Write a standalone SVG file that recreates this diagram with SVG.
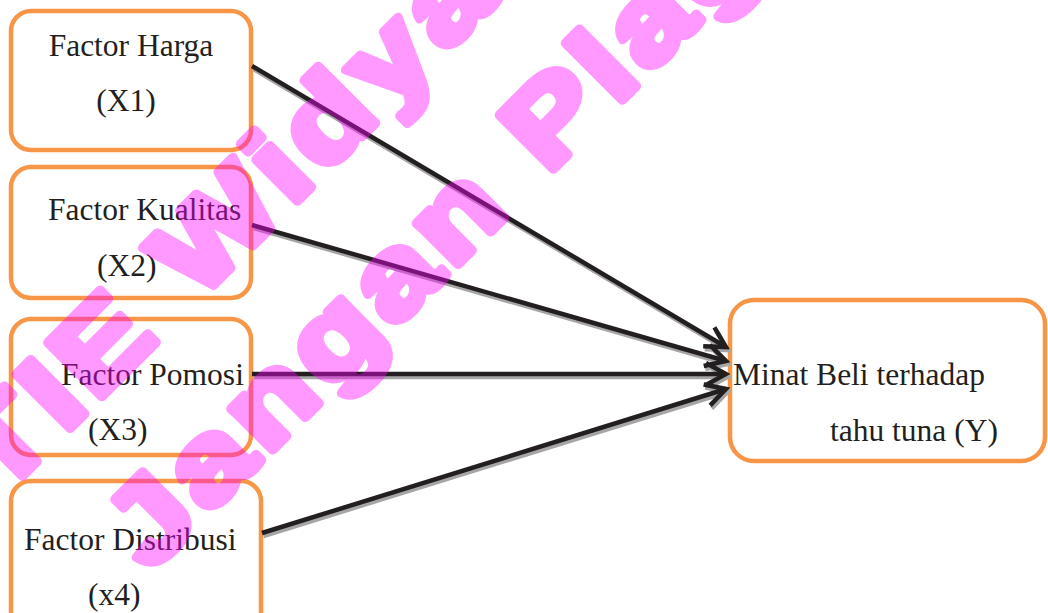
<svg xmlns="http://www.w3.org/2000/svg" width="1048" height="613" viewBox="0 0 1048 613">
  <defs>
    <style>
      .box { fill: #ffffff; stroke: #f79646; stroke-width: 4.5; }
      .lbl { font-family: "Liberation Serif", "Times New Roman", serif; font-size: 31.5px; fill: #231f20; }
      .wire { fill: none; stroke: #231f20; stroke-width: 4.5; stroke-linecap: butt; }
      .wire-shadow { fill: none; stroke: #a6a6a6; stroke-width: 4.5; }
      .mark { font-family: "Liberation Sans", Arial, sans-serif; font-weight: bold; font-size: 112px; letter-spacing: 6.5px; fill: #ff00ff; stroke: #ff00ff; stroke-width: 9; stroke-linejoin: round; }
    </style>
    <marker id="head" viewBox="-24 -14 28 28" refX="0" refY="0" markerWidth="28" markerHeight="28" markerUnits="userSpaceOnUse" orient="auto">
      <path d="M -20 -11 L 0 0 L -20 11" fill="none" stroke="#231f20" stroke-width="4.5" stroke-linejoin="miter"/>
    </marker>
    <marker id="head-shadow" viewBox="-24 -14 28 28" refX="0" refY="0" markerWidth="28" markerHeight="28" markerUnits="userSpaceOnUse" orient="auto">
      <path d="M -20 -11 L 0 0 L -20 11" fill="none" stroke="#a6a6a6" stroke-width="4.5" stroke-linejoin="miter"/>
    </marker>
  </defs>

  <rect width="1048" height="613" fill="#ffffff"/>

  <!-- predictor boxes -->
  <g id="x1">
    <rect class="box" x="11" y="11" width="240" height="139" rx="20"/>
    <text class="lbl" x="131" y="56" text-anchor="middle">Factor Harga</text>
    <text class="lbl" x="126" y="111" text-anchor="middle">(X1)</text>
  </g>
  <g id="x2">
    <rect class="box" x="11" y="167" width="240" height="131" rx="20"/>
    <text class="lbl" x="48" y="220">Factor Kualitas</text>
    <text class="lbl" x="97" y="276">(X2)</text>
  </g>
  <g id="x3">
    <rect class="box" x="11" y="319" width="240" height="136" rx="20"/>
    <text class="lbl" x="61" y="385">Factor Pomosi</text>
    <text class="lbl" x="88" y="440">(X3)</text>
  </g>
  <g id="x4">
    <rect class="box" x="11" y="481" width="250" height="150" rx="20"/>
    <text class="lbl" x="24" y="550">Factor Distribusi</text>
    <text class="lbl" x="88" y="605">(x4)</text>
  </g>

  <!-- outcome box -->
  <g id="y">
    <rect class="box" x="730" y="300" width="315" height="161" rx="24"/>
    <text class="lbl" x="733" y="385">Minat Beli terhadap</text>
    <text class="lbl" x="830" y="441">tahu tuna (Y)</text>
  </g>

  <!-- connectors: grey drop shadow first, then the black line -->
  <g id="connectors">
    <g transform="translate(1.5,3)">
      <line class="wire-shadow" x1="252" y1="66" x2="726" y2="347" marker-end="url(#head-shadow)"/>
      <line class="wire-shadow" x1="252" y1="225" x2="726" y2="361" marker-end="url(#head-shadow)"/>
      <line class="wire-shadow" x1="252" y1="374" x2="726" y2="374" marker-end="url(#head-shadow)"/>
      <line class="wire-shadow" x1="262" y1="533" x2="726" y2="389" marker-end="url(#head-shadow)"/>
    </g>
    <line class="wire" x1="252" y1="66" x2="726" y2="347" marker-end="url(#head)"/>
    <line class="wire" x1="252" y1="225" x2="726" y2="361" marker-end="url(#head)"/>
    <line class="wire" x1="252" y1="374" x2="726" y2="374" marker-end="url(#head)"/>
    <line class="wire" x1="262" y1="533" x2="726" y2="389" marker-end="url(#head)"/>
  </g>

  <!-- diagonal watermark, laid over everything as one translucent layer -->
  <g id="watermark" opacity="0.4">
    <text class="mark" transform="translate(-68,567) rotate(-45) scale(1.2,1)">STIE Widya Wiwaha</text>
    <text class="mark" transform="translate(150,573) rotate(-45) scale(1.2,1)">Jangan Plagiat</text>
  </g>
</svg>
